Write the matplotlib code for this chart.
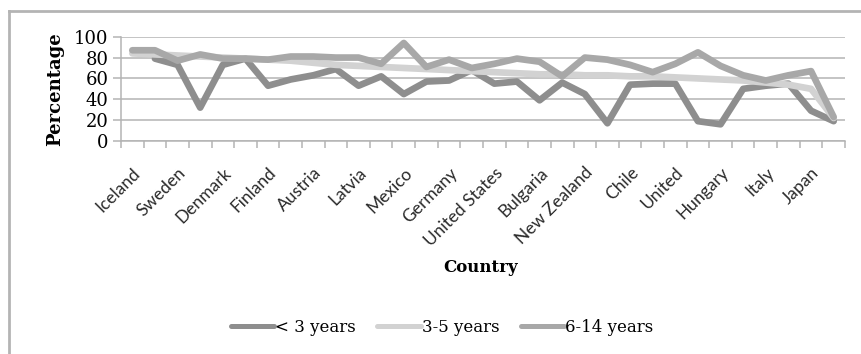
import numpy as np
import matplotlib.pyplot as plt
from matplotlib.lines import Line2D

# share of children in childcare, by age group (32 countries, every other one labelled)
shown_labels = ["Iceland", "Sweden", "Denmark", "Finland", "Austria", "Latvia",
                "Mexico", "Germany", "United States", "Bulgaria", "New Zealand",
                "Chile", "United", "Hungary", "Italy", "Japan"]
under_3 = [np.nan, 79, 73, 32, 73, 79, 53, 59, 63, 69, 53, 62, 45, 57, 58, 68,
           55, 57, 39, 56, 45, 17, 54, 55, 55, 19, 16, 50, 53, 55, 29, 19]
age_3_5 = [84, 83, 82, 81, 80, 79, 78, 77, 75, 73, 72, 71, 70, 69, 68, 67,
           66, 65, 64, 64, 63, 63, 62, 62, 61, 60, 59, 58, 56, 54, 50, 22]
age_6_14 = [87, 87, 77, 83, 79, 79, 78, 81, 81, 80, 80, 74, 94, 71, 78, 70,
            74, 79, 76, 62, 80, 78, 73, 66, 74, 85, 72, 63, 58, 63, 67, 23]
series = [("< 3 years", under_3, "#8e8e8e"),
          ("3-5 years", age_3_5, "#d2d2d2"),
          ("6-14 years", age_6_14, "#a8a8a8")]

serif = ["DejaVu Serif"]
grid_col = "#b4b4b4"

fig = plt.figure(figsize=(8.61, 3.54), dpi=100)
ax = fig.add_axes([121 / 861, 1 - 141 / 354, 724 / 861, 104.3 / 354])

x = np.arange(1, len(age_3_5) + 1)
for name, vals, col in series:
    ax.plot(x, vals, color=col, lw=4.8, label=name,
            solid_capstyle="round", solid_joinstyle="round")

ax.set_xlim(0.5, len(x) + 0.5)
ax.set_ylim(0, 100)
ax.set_yticks(range(0, 101, 20))
ax.yaxis.grid(True, color=grid_col, lw=1.1)
ax.set_axisbelow(True)
for s in ["top", "right"]:
    ax.spines[s].set_visible(False)
for s in ["left", "bottom"]:
    ax.spines[s].set_color(grid_col)
    ax.spines[s].set_linewidth(1.1)

# tick marks between categories, labels on every other category
ax.set_xticks(np.arange(0.5, len(x) + 1, 1))
ax.set_xticklabels([])
ax.set_xticks(x[::2], minor=True)
ax.set_xticklabels(shown_labels, minor=True, rotation=45, ha="right",
                   va="top", rotation_mode="anchor", fontsize=12.5,
                   family=["Lato", "DejaVu Sans"], color="#2a2a2a")
ax.tick_params(axis="x", which="major", length=5, color=grid_col, width=1.1)
ax.tick_params(axis="x", which="minor", length=0, pad=17)
ax.tick_params(axis="y", length=6, color=grid_col, width=1.1, pad=3)
for t in ax.get_yticklabels():
    t.set_family(serif)
    t.set_fontsize(13)

ax.set_ylabel("Percentage", family=serif, fontsize=13, fontweight="bold",
              labelpad=7)
fig.text(481 / 861, 1 - 268 / 354, "Country", family=serif, fontsize=12,
         fontweight="bold", ha="center", va="center")

leg = fig.legend(loc="center", bbox_to_anchor=(442 / 861, 1 - 327 / 354),
                 ncol=3, frameon=False, handlelength=2.6, handletextpad=0.05,
                 columnspacing=1.3, prop={"family": serif, "size": 12})
for h in leg.get_lines():
    h.set_linewidth(3.6)

# chart border
fig.add_artist(Line2D([9 / 861, 9 / 861], [0, 1 - 11 / 354], color=grid_col, lw=2))
fig.add_artist(Line2D([9 / 861, 1], [1 - 11 / 354, 1 - 11 / 354], color=grid_col, lw=2))

fig.savefig("out.png", dpi=100)
